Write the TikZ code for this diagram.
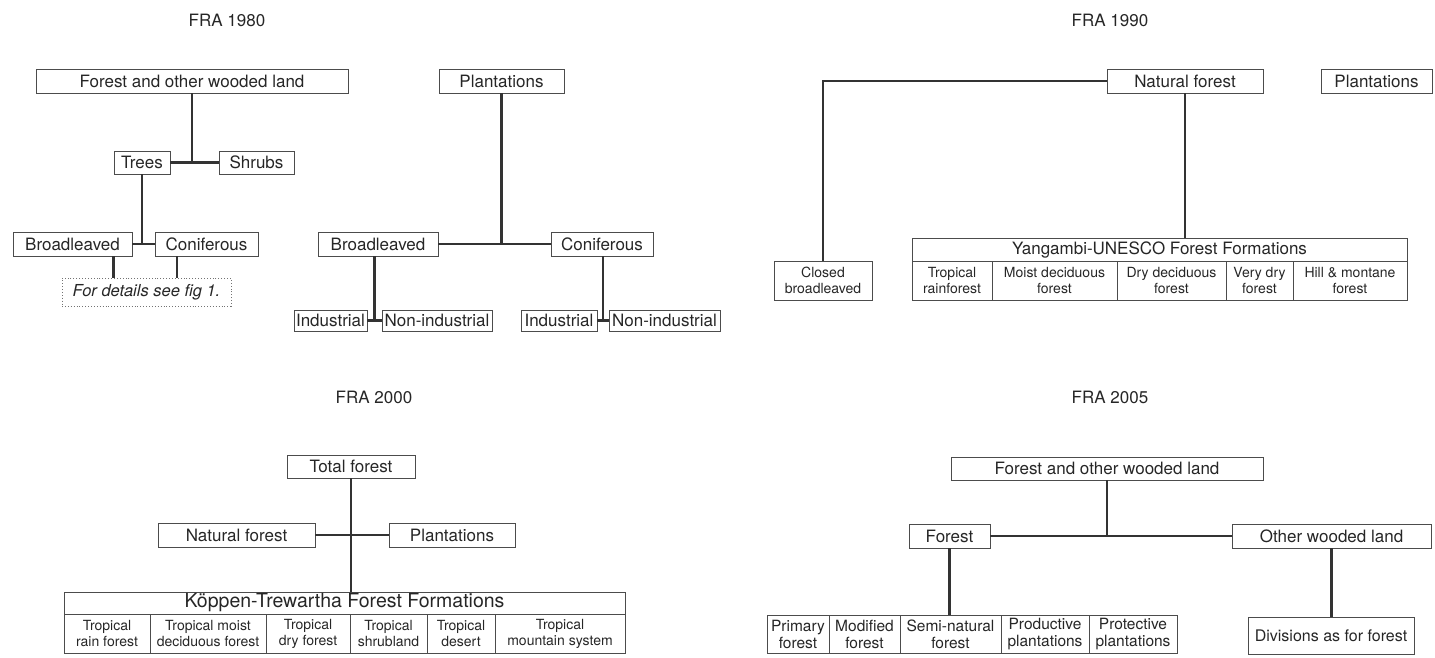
\documentclass[tikz,border=0pt]{standalone}
\usepackage{fontspec}
\setmainfont{TeX Gyre Heros}
\usetikzlibrary{calc}
\tikzset{
  box/.style={draw=black!70, line width=0.9pt, inner sep=0pt, align=center, text=black!85, font=\fontsize{17}{20}\selectfont},
  cellA/.style={box, font=\fontsize{14}{16}\selectfont},
  cellB/.style={box, font=\fontsize{15.5}{17}\selectfont},
  conn/.style={draw=black!80, line width=2.2pt},
  ttl/.style={inner sep=0pt, text=black!85, font=\fontsize{17}{20}\selectfont},
  dotbox/.style={draw=black!55, dotted, line width=0.9pt, inner sep=0pt, text=black!85, font=\fontsize{16.5}{20}\selectfont\itshape},
}
\begin{document}
\begin{tikzpicture}[x=1pt, y=-1pt]
\useasboundingbox (0,0) rectangle (1435,657);

% ---------- FRA 1980 ----------
\node[ttl] (t80) at (227,20) {FRA 1980};
\node[box, minimum width=312pt, minimum height=24pt] (a1) at (192,81) {Forest and other wooded land};
\node[box, minimum width=56pt, minimum height=23pt] (a2) at (142,162.5) {Trees};
\node[box, minimum width=75pt, minimum height=23pt] (a3) at (256.5,162.5) {Shrubs};
\node[box, minimum width=119pt, minimum height=24pt] (a4) at (72.5,244) {Broadleaved};
\node[box, minimum width=103pt, minimum height=24pt] (a5) at (206.5,244) {Coniferous};
\node[dotbox, minimum width=169pt, minimum height=28pt] (a6) at (146.5,292) {For details see fig 1.};
\draw[conn] (a1.south) -- (a1.south |- a2.east);
\draw[conn] (a2.east) -- (a3.west);
\draw[conn] (a2.south) -- (a2.south |- a4.east);
\draw[conn] (a4.east) -- (a5.west);
\coordinate (a4d) at ([xshift=-19pt]a4.south east);
\coordinate (a5d) at ([xshift=-29.5pt]a5.south);
\draw[conn] (a4d) -- (a4d |- a6.north);
\draw[conn] (a5d) -- (a5d |- a6.north);

\node[box, minimum width=125pt, minimum height=24pt] (b1) at (501.5,81) {Plantations};
\node[box, minimum width=120pt, minimum height=24pt] (b2) at (378,244) {Broadleaved};
\node[box, minimum width=102pt, minimum height=24pt] (b3) at (602,244) {Coniferous};
\node[box, minimum width=73pt, minimum height=21pt] (b4) at (330.5,320.5) {Industrial};
\node[box, minimum width=110pt, minimum height=21pt] (b5) at (437,320.5) {Non-industrial};
\node[box, minimum width=76pt, minimum height=21pt] (b6) at (559,320.5) {Industrial};
\node[box, minimum width=111pt, minimum height=21pt] (b7) at (664.5,320.5) {Non-industrial};
\draw[conn] (b1.south) -- (b1.south |- b2.east);
\draw[conn] (b2.east) -- (b3.west);
\coordinate (bj1) at ($(b4.east)!0.5!(b5.west)$);
\coordinate (bj2) at ($(b6.east)!0.5!(b7.west)$);
\draw[conn] (bj1 |- b2.south) -- (bj1);
\draw[conn] (b4.east) -- (b5.west);
\draw[conn] (bj2 |- b3.south) -- (bj2);
\draw[conn] (b6.east) -- (b7.west);

% ---------- FRA 1990 ----------
\node[ttl] (t90) at (1110,20) {FRA 1990};
\node[box, minimum width=156pt, minimum height=24pt] (c1) at (1185,81) {Natural forest};
\node[box, minimum width=111pt, minimum height=24pt] (c2) at (1376.5,81) {Plantations};
\node[cellA, minimum width=98pt, minimum height=39pt] (c3) at (823,280.5) {Closed\\broadleaved};
\node[box, minimum width=495pt, minimum height=23pt] (y0) at (1159.5,249.5) {Yangambi-UNESCO Forest Formations};
\node[cellA, minimum width=80pt, minimum height=39pt] (y1) at (952,280.5) {Tropical\\rainforest};
\node[cellA, minimum width=125pt, minimum height=39pt] (y2) at (1054.5,280.5) {Moist deciduous\\forest};
\node[cellA, minimum width=109pt, minimum height=39pt] (y3) at (1171.5,280.5) {Dry deciduous\\forest};
\node[cellA, minimum width=67pt, minimum height=39pt] (y4) at (1259.5,280.5) {Very dry\\forest};
\node[cellA, minimum width=114pt, minimum height=39pt] (y5) at (1350,280.5) {Hill \& montane\\forest};
\draw[conn] (c1.west) -| (c3.north);
\draw[conn] (c1.south) -- (c1.south |- y0.north);

% ---------- FRA 2000 ----------
\node[ttl] (t00) at (374,397) {FRA 2000};
\node[box, minimum width=128pt, minimum height=23pt] (e1) at (351,466.5) {Total forest};
\node[box, minimum width=157pt, minimum height=24pt] (e2) at (236.5,535) {Natural forest};
\node[box, minimum width=126pt, minimum height=24pt] (e3) at (452,535) {Plantations};
\node[box, minimum width=561pt, minimum height=22pt, font=\fontsize{19.5}{22}\selectfont] (k0) at (344.5,603) {Köppen-Trewartha Forest Formations};
\node[cellA, minimum width=86pt, minimum height=39pt] (f1) at (107,633.5) {Tropical\\rain forest};
\node[cellA, minimum width=116pt, minimum height=39pt] (f2) at (208,633.5) {Tropical moist\\deciduous forest};
\node[cellA, minimum width=84pt, minimum height=39pt] (f3) at (308,633.5) {Tropical\\dry forest};
\node[cellA, minimum width=77pt, minimum height=39pt] (f4) at (388.5,633.5) {Tropical\\shrubland};
\node[cellA, minimum width=68pt, minimum height=39pt] (f5) at (461,633.5) {Tropical\\desert};
\node[cellA, minimum width=130pt, minimum height=39pt] (f6) at (560,633.5) {Tropical\\mountain system};
\draw[conn] (e1.south) -- (e1.south |- k0.north);
\draw[conn] (e2.east) -- (e3.west);

% ---------- FRA 2005 ----------
\node[ttl] (t05) at (1110,397) {FRA 2005};
\node[box, minimum width=312pt, minimum height=23pt] (g1) at (1107,468.5) {Forest and other wooded land};
\node[box, minimum width=81pt, minimum height=24pt] (g2) at (949.5,536) {Forest};
\node[box, minimum width=199pt, minimum height=24pt] (g3) at (1331.5,536) {Other wooded land};
\node[cellB, minimum width=62pt, minimum height=38pt] (h1) at (798,634) {Primary\\forest};
\node[cellB, minimum width=71pt, minimum height=38pt] (h2) at (864.5,634) {Modified\\forest};
\node[cellB, minimum width=101pt, minimum height=38pt] (h3) at (950.5,634) {Semi-natural\\forest};
\node[cellB, minimum width=88pt, minimum height=38pt] (h4) at (1045,634) {Productive\\plantations};
\node[cellB, minimum width=88pt, minimum height=38pt] (h5) at (1133,634) {Protective\\plantations};
\node[box, minimum width=166pt, minimum height=37pt, font=\fontsize{16}{19}\selectfont] (g4) at (1331,635.5) {Divisions as for forest};
\draw[conn] (g1.south) -- (g1.south |- g2.east);
\draw[conn] (g2.east) -- (g3.west);
\draw[conn] (g2.south) -- (g2.south |- h3.north);
\draw[conn] (g3.south) -- (g3.south |- g4.north);
\end{tikzpicture}
\end{document}
